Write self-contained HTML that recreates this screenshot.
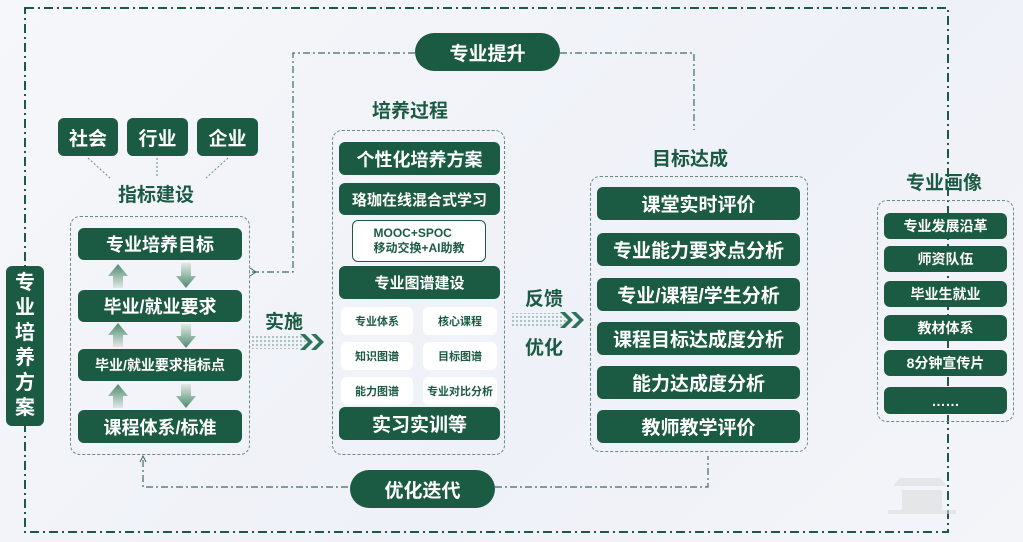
<!DOCTYPE html>
<html><head><meta charset="utf-8"><style>
*{margin:0;padding:0;box-sizing:border-box}
body{width:1023px;height:542px;position:relative;overflow:hidden;background:linear-gradient(135deg,#f6f7fa,#eef1f8 60%,#f4f5f9);font-family:"Liberation Sans","Noto Sans CJK SC",sans-serif;font-weight:bold}
.b{position:absolute;background:#1b5a43;color:#fff;border-radius:6px;display:flex;align-items:center;justify-content:center;white-space:nowrap}
.w{position:absolute;background:#fff;color:#1b5a43;border-radius:6px;display:flex;align-items:center;justify-content:center;white-space:nowrap;font-size:11px}
.t{position:absolute;color:#1b5a43;white-space:nowrap;font-size:19px}
.c{position:absolute;border:1px dashed #6a8a7e;border-radius:10px}
svg{position:absolute;left:0;top:0}
</style></head><body>
<svg width="1023" height="542">
<defs><linearGradient id="gu" x1="0" y1="1" x2="0" y2="0"><stop offset="0" stop-color="#e0e9e4"/><stop offset="1" stop-color="#4f8a72"/></linearGradient>
<linearGradient id="gd" x1="0" y1="0" x2="0" y2="1"><stop offset="0" stop-color="#e0e9e4"/><stop offset="1" stop-color="#4f8a72"/></linearGradient>
<pattern id="dots" width="4" height="4" patternUnits="userSpaceOnUse"><rect width="2" height="2" fill="#7fa597"/></pattern></defs>
<g fill="none" stroke="#1b5a43" stroke-width="2" stroke-dasharray="9,4,2,4">
<rect x="25" y="8" width="923" height="524"/>
</g>
<g fill="none" stroke="#3f6d5c" stroke-width="1.2" stroke-dasharray="7,3,2,3">
<polyline points="415,53 293,53 293,272 250,272"/>
<polyline points="560,53 694,53 694,130"/>
<polyline points="143,460 143,487 350,487"/>
<polyline points="495,487 708,487 708,456"/>
</g>
<path d="M250 268 L256 272 L250 276" stroke="#3f6d5c" fill="none"/>
<path d="M140 462 L143 456 L146 462" stroke="#3f6d5c" fill="none"/>
<g stroke="#6a8a7e" stroke-dasharray="2,2">
<line x1="88" y1="158" x2="110" y2="178"/><line x1="157" y1="158" x2="157" y2="178"/><line x1="228" y1="158" x2="206" y2="178"/>
</g>
<g fill="url(#gu)">
<path d="M113 288 L113 276 L108 276 L118 264 L128 276 L123 276 L123 288Z"/>
<path d="M113 347 L113 335 L108 335 L118 323 L128 335 L123 335 L123 347Z"/>
<path d="M113 408 L113 396 L108 396 L118 384 L128 396 L123 396 L123 408Z"/>
</g>
<g fill="url(#gd)">
<path d="M181 263 L191 263 L191 276 L196 276 L186 288 L176 276 L181 276Z"/>
<path d="M181 324 L191 324 L191 336 L196 336 L186 348 L176 336 L181 336Z"/>
<path d="M181 384 L191 384 L191 396 L196 396 L186 408 L176 396 L181 396Z"/>
</g>
<path d="M250 335h50l7 7-7 7h-50z" fill="url(#dots)" opacity=".6"/>
<path d="M510 313h50l7 7-7 7h-50z" fill="url(#dots)" opacity=".6"/>
<g fill="#2e7359">
<path d="M300 334l8 8-8 8h5l8-8-8-8zM311 334l8 8-8 8h5l8-8-8-8z"/>
<path d="M560 312l8 8-8 8h5l8-8-8-8zM571 312l8 8-8 8h5l8-8-8-8z"/>
</g>
<g fill="#ddd" opacity=".6"><path d="M893 486 L947 486 L940 478 L900 478Z"/><rect x="902" y="490" width="40" height="20"/><rect x="888" y="510" width="68" height="4"/></g>
</svg>
<div class="b" style="left:415px;top:33px;width:145px;height:38px;border-radius:19px;font-size:19px">专业提升</div>
<div class="b" style="left:350px;top:470px;width:145px;height:38px;border-radius:19px;font-size:19px">优化迭代</div>
<div class="b" style="left:6px;top:266px;width:38px;height:160px;font-size:20px;line-height:25px;white-space:normal;text-align:center;padding:0 9px">专业培养方案</div>
<div class="b" style="left:58px;top:118px;width:60px;height:38px;font-size:19px">社会</div>
<div class="b" style="left:127px;top:118px;width:61px;height:38px;font-size:19px">行业</div>
<div class="b" style="left:197px;top:118px;width:61px;height:38px;font-size:19px">企业</div>
<div class="t" style="left:118px;top:180px">指标建设</div>
<div class="c" style="left:70px;top:216px;width:180px;height:239px"></div>
<div class="b" style="left:78px;top:228px;width:164px;height:32px;font-size:18px">专业培养目标</div>
<div class="b" style="left:78px;top:290px;width:164px;height:32px;font-size:18px">毕业/就业要求</div>
<div class="b" style="left:78px;top:349px;width:164px;height:32px;font-size:14px">毕业/就业要求指标点</div>
<div class="b" style="left:78px;top:410px;width:164px;height:33px;font-size:18px">课程体系/标准</div>
<div class="t" style="left:265px;top:307px">实施</div>
<div class="t" style="left:372px;top:96px">培养过程</div>
<div class="c" style="left:332px;top:130px;width:173px;height:325px"></div>
<div class="b" style="left:339px;top:142px;width:161px;height:33px;font-size:18px">个性化培养方案</div>
<div class="b" style="left:339px;top:183px;width:161px;height:32px;font-size:15px">珞珈在线混合式学习</div>
<div class="w" style="left:352px;top:220px;width:134px;height:42px;border:1px solid #1b5a43;flex-direction:column;font-size:12px;line-height:15px">MOOC+SPOC<br>移动交换+AI助教</div>
<div class="b" style="left:339px;top:266px;width:161px;height:33px;font-size:15px">专业图谱建设</div>
<div class="w" style="left:341px;top:307px;width:72px;height:28px">专业体系</div>
<div class="w" style="left:423px;top:307px;width:74px;height:28px">核心课程</div>
<div class="w" style="left:341px;top:342px;width:72px;height:28px">知识图谱</div>
<div class="w" style="left:423px;top:342px;width:74px;height:28px">目标图谱</div>
<div class="w" style="left:341px;top:377px;width:72px;height:28px">能力图谱</div>
<div class="w" style="left:423px;top:377px;width:74px;height:28px">专业对比分析</div>
<div class="b" style="left:339px;top:407px;width:161px;height:33px;font-size:19px">实习实训等</div>
<div class="t" style="left:525px;top:284px">反馈</div>
<div class="t" style="left:525px;top:333px">优化</div>
<div class="t" style="left:652px;top:144px">目标达成</div>
<div class="c" style="left:590px;top:176px;width:218px;height:276px"></div>
<div class="b" style="left:597px;top:187px;width:203px;height:33px;font-size:19px">课堂实时评价</div>
<div class="b" style="left:597px;top:233px;width:203px;height:33px;font-size:19px">专业能力要求点分析</div>
<div class="b" style="left:597px;top:278px;width:203px;height:33px;font-size:19px">专业/课程/学生分析</div>
<div class="b" style="left:597px;top:322px;width:203px;height:33px;font-size:19px">课程目标达成度分析</div>
<div class="b" style="left:597px;top:366px;width:203px;height:33px;font-size:19px">能力达成度分析</div>
<div class="b" style="left:597px;top:410px;width:203px;height:33px;font-size:19px">教师教学评价</div>
<div class="t" style="left:906px;top:168px">专业画像</div>
<div class="c" style="left:877px;top:200px;width:137px;height:222px"></div>
<div class="b" style="left:884px;top:213px;width:123px;height:26px;font-size:14px">专业发展沿革</div>
<div class="b" style="left:884px;top:246px;width:123px;height:26px;font-size:14px">师资队伍</div>
<div class="b" style="left:884px;top:281px;width:123px;height:26px;font-size:14px">毕业生就业</div>
<div class="b" style="left:884px;top:315px;width:123px;height:26px;font-size:14px">教材体系</div>
<div class="b" style="left:884px;top:350px;width:123px;height:26px;font-size:14px">8分钟宣传片</div>
<div class="b" style="left:884px;top:387px;width:123px;height:27px;font-size:14px">……</div>
</body></html>
